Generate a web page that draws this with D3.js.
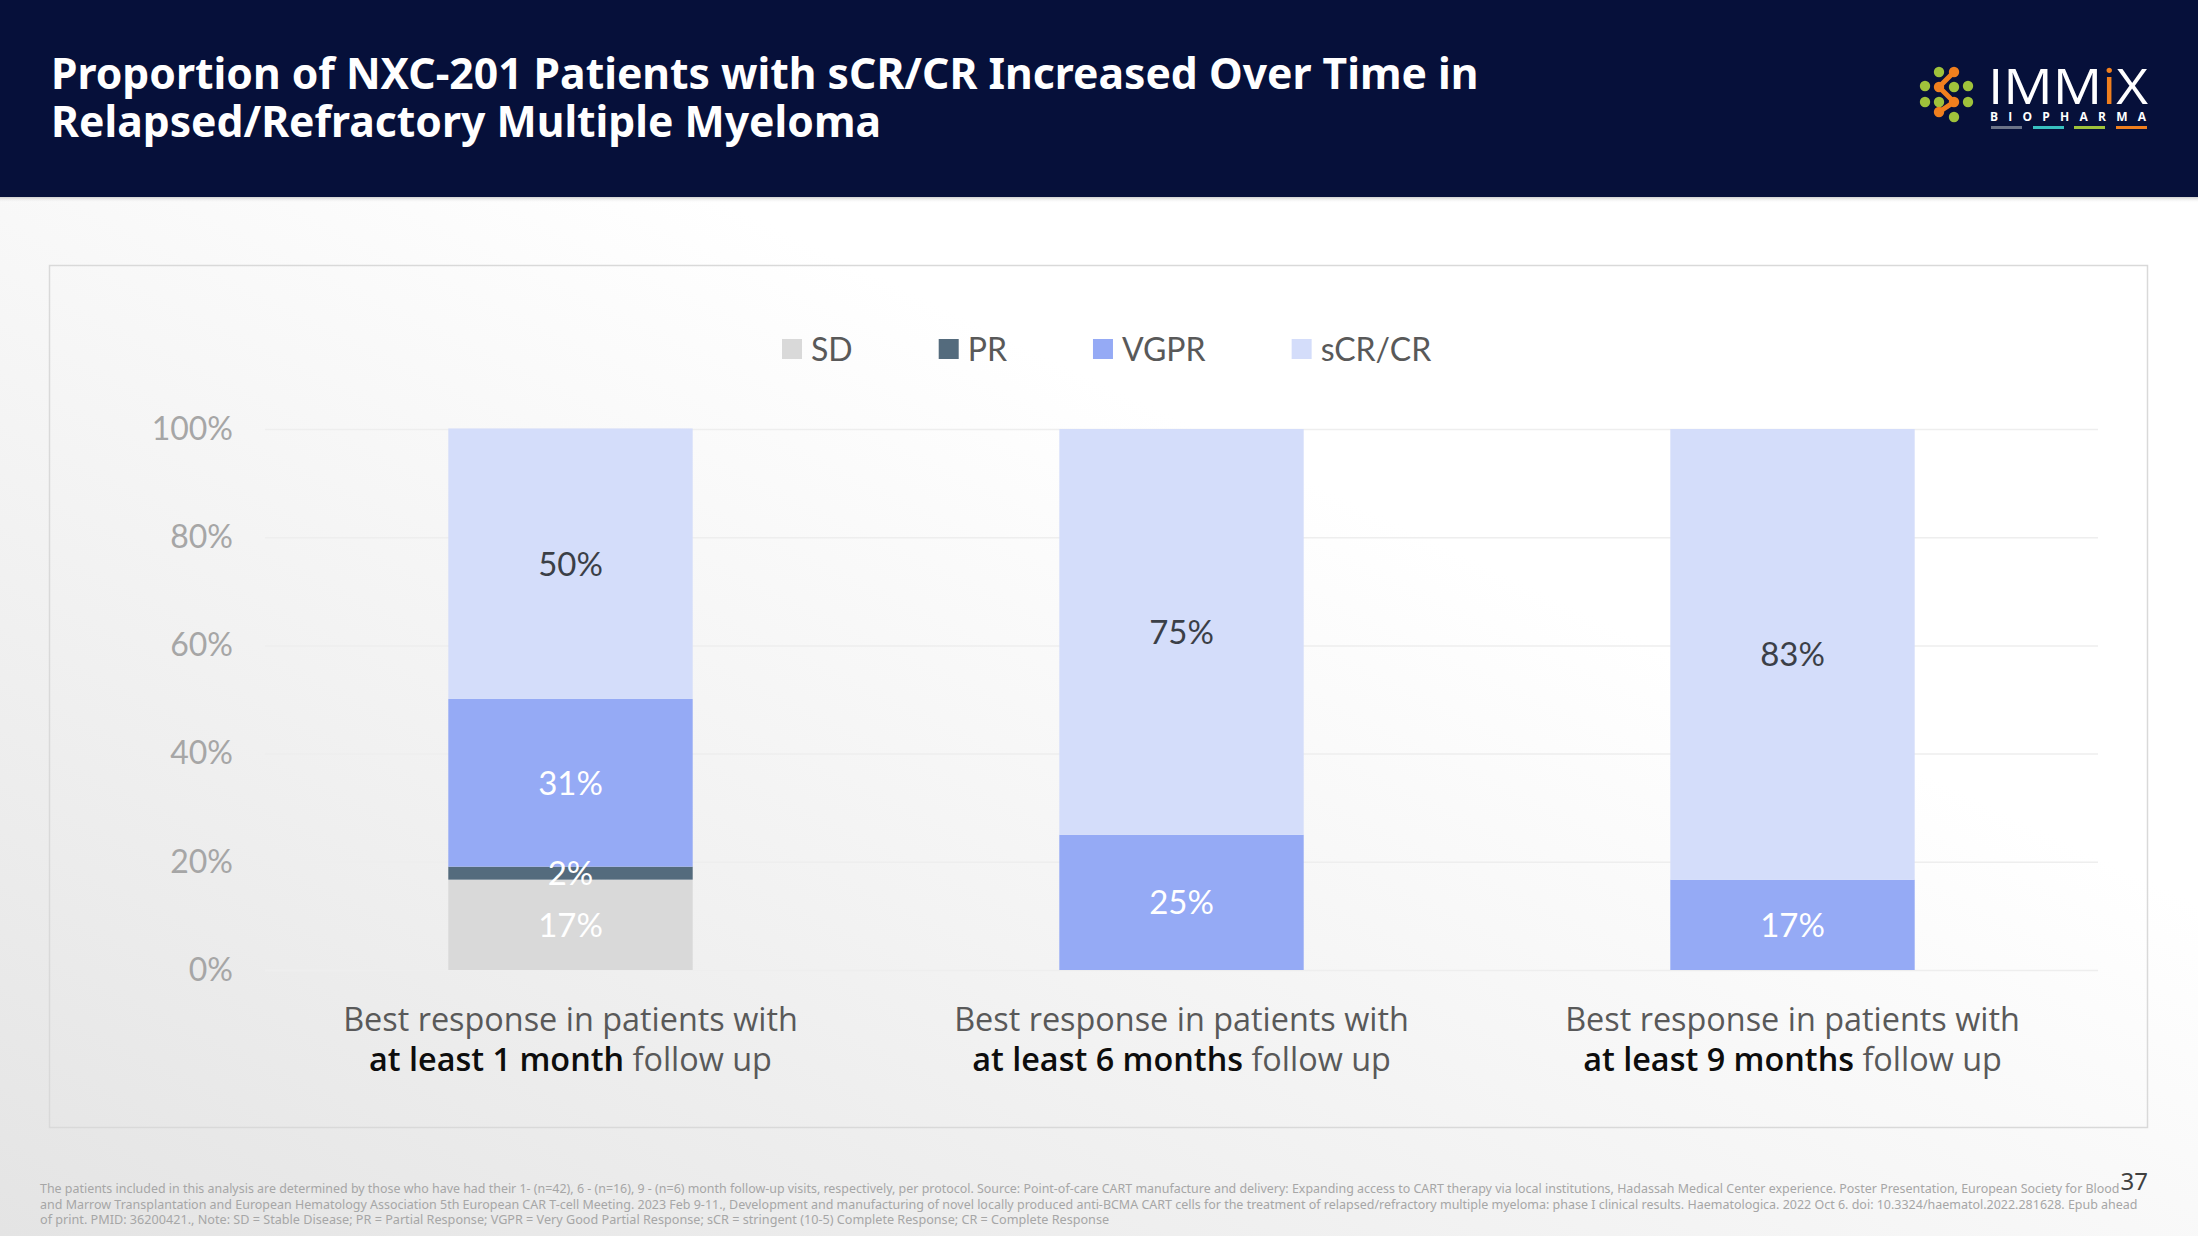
<!DOCTYPE html>
<html>
<head>
<meta charset="utf-8">
<script src="https://cdn.jsdelivr.net/npm/d3@7"></script>
<style>
  html, body { margin: 0; padding: 0; background: #ffffff; }
  svg { display: block; }
</style>
</head>
<body>
<svg id="chart" width="2198" height="1236"></svg>
<script>
// ---------------- DATA ----------------
const categories = ["1 month", "6 months", "9 months"];
const seriesNames = ["SD", "PR", "VGPR", "sCR/CR"];
const sdValues   = [16.7, 0, 0];
const prValues   = [2.4, 0, 0];
const vgprValues = [31.0, 25.0, 16.7];
const scrValues  = [50.0, 75.0, 83.3];
const yTicks = [0, 20, 40, 60, 80, 100];
const xLabelLine1 = ["Best response in patients with", "Best response in patients with", "Best response in patients with"];
const xLabelBold = ["at least 1 month", "at least 6 months", "at least 9 months"];
const xLabelRest = [" follow up", " follow up", " follow up"];
const titleLines = [
  "Proportion of NXC-201 Patients with sCR/CR Increased Over Time in",
  "Relapsed/Refractory Multiple Myeloma"
];
const footnoteLines = [
  "The patients included in this analysis are determined by those who have had their 1- (n=42), 6 - (n=16), 9 - (n=6) month follow-up visits, respectively, per protocol. Source: Point-of-care CART manufacture and delivery: Expanding access to CART therapy via local institutions, Hadassah Medical Center experience. Poster Presentation, European Society for Blood",
  "and Marrow Transplantation and European Hematology Association 5th European CAR T-cell Meeting. 2023 Feb 9-11., Development and manufacturing of novel locally produced anti-BCMA CART cells for the treatment of relapsed/refractory multiple myeloma: phase I clinical results. Haematologica. 2022 Oct 6. doi: 10.3324/haematol.2022.281628. Epub ahead",
  "of print. PMID: 36200421.,  Note: SD = Stable Disease; PR = Partial Response; VGPR = Very Good Partial Response; sCR = stringent (10-5) Complete Response; CR = Complete Response"
];
const pageNumber = "37";

// ---------------- STYLE ----------------
const colors = { "SD": "#d9d9d9", "PR": "#546b7d", "VGPR": "#95aaf5", "sCR/CR": "#d4ddfa" };
const labelColors = { "SD": "#ffffff", "PR": "#ffffff", "VGPR": "#ffffff", "sCR/CR": "#3b3f47" };

const W = 2198, H = 1236;
const svg = d3.select("#chart");
const defs = svg.append("defs");

// background gradient
const bg = defs.append("linearGradient").attr("id", "bgGrad")
  .attr("x1", "0").attr("y1", "1").attr("x2", "0.55").attr("y2", "0.35");
bg.append("stop").attr("offset", "0").attr("stop-color", "#e4e4e4");
bg.append("stop").attr("offset", "1").attr("stop-color", "#ffffff");
svg.append("rect").attr("width", W).attr("height", H).attr("fill", "url(#bgGrad)");

// header
svg.append("rect").attr("x", 0).attr("y", 0).attr("width", W).attr("height", 197).attr("fill", "#06103a");
const sh = defs.append("linearGradient").attr("id", "shGrad").attr("x1", 0).attr("y1", 0).attr("x2", 0).attr("y2", 1);
sh.append("stop").attr("offset", 0).attr("stop-color", "#d0d0d0");
sh.append("stop").attr("offset", 1).attr("stop-color", "#ffffff").attr("stop-opacity", 0);
svg.append("rect").attr("x", 0).attr("y", 197).attr("width", W).attr("height", 6).attr("fill", "url(#shGrad)");

const titleFont = "'Noto Sans', 'Open Sans', sans-serif";
const title = svg.append("g");
const tl = title.selectAll("text").data(titleLines).join("text")
  .attr("x", 51)
  .attr("y", (d, i) => 89 + i * 48)
  .attr("fill", "#ffffff")
  .attr("font-family", titleFont)
  .attr("font-weight", 700)
  .attr("font-size", 40)
  .text(d => d);
// fit first line width to reference
const w0 = tl.nodes()[0].getComputedTextLength();
const fs = 40 * 1428 / w0;
tl.attr("font-size", fs);

// logo
const logo = svg.append("g");
const green = "#9fc23b", orange = "#f07f1e";
const dots = [
  [1925, 86, green], [1925, 102, green],
  [1939, 72, green], [1939, 87, orange], [1939, 102, green], [1939, 112, orange],
  [1954, 72, orange], [1954, 87, green], [1954, 102, orange], [1954, 117, green],
  [1968, 86, green], [1968, 102, green]
];
logo.append("path")
  .attr("d", "M1954,72 L1939,87 L1954,102 L1939,112")
  .attr("stroke", orange).attr("stroke-width", 5).attr("fill", "none").attr("stroke-linecap", "round");
logo.selectAll("circle").data(dots).join("circle")
  .attr("cx", d => d[0]).attr("cy", d => d[1]).attr("r", 5.2).attr("fill", d => d[2]);
const immix = logo.append("text").attr("x", 1988).attr("y", 104)
  .attr("font-family", "'Open Sans', sans-serif").attr("font-weight", 400).attr("font-size", 50)
  .attr("fill", "#ffffff").attr("textLength", 160).attr("lengthAdjust", "spacingAndGlyphs");
immix.append("tspan").text("IMM");
immix.append("tspan").attr("fill", orange).text("i");
immix.append("tspan").text("X");
logo.append("text").attr("x", 1990).attr("y", 121)
  .attr("font-family", "'Open Sans', sans-serif").attr("font-weight", 700).attr("font-size", 12)
  .attr("fill", "#ffffff").attr("textLength", 156).attr("lengthAdjust", "spacing")
  .text("BIOPHARMA");
const bars = [["#6b7388", 1991], ["#38c0c0", 2033], ["#9fc23b", 2074], [orange, 2116]];
logo.selectAll("rect.ul").data(bars).join("rect").attr("class", "ul")
  .attr("x", d => d[1]).attr("y", 126).attr("width", 31).attr("height", 3).attr("fill", d => d[0]);

// panel border
svg.append("rect").attr("x", 49.5).attr("y", 265.5).attr("width", 2098).attr("height", 862)
  .attr("fill", "none").attr("stroke", "#d9d9d9").attr("stroke-width", 1.5);

// ---------------- SCALES ----------------
const x = d3.scaleBand().domain(categories).range([265, 2098]).paddingInner(0.6).paddingOuter(0.3);
const y = d3.scaleLinear().domain([0, 100]).range([970, 429]);

// gridlines + y axis
const numFont = "Lato, 'Open Sans', sans-serif";
const yAxis = d3.axisLeft(y).tickValues(yTicks).tickSize(-(2098 - 265)).tickPadding(32).tickFormat(d => d + "%");
const gy = svg.append("g").attr("transform", "translate(265,0)").call(yAxis);
gy.select(".domain").remove();
gy.selectAll(".tick line").attr("stroke", "#eeeeee").attr("stroke-width", 1.5);
gy.selectAll(".tick text").attr("fill", "#a6a6a6").attr("font-family", numFont).attr("font-size", 32);

// stacked bars
const table = categories.map((c, i) => ({
  cat: c, "SD": sdValues[i], "PR": prValues[i], "VGPR": vgprValues[i], "sCR/CR": scrValues[i]
}));
const stack = d3.stack().keys(seriesNames)(table);
const layers = svg.append("g").selectAll("g").data(stack).join("g").attr("fill", d => colors[d.key]);
layers.selectAll("rect").data(d => d.map(p => ({ key: d.key, p }))).join("rect")
  .attr("x", d => x(d.p.data.cat))
  .attr("width", x.bandwidth())
  .attr("y", d => y(d.p[1]))
  .attr("height", d => y(d.p[0]) - y(d.p[1]));

// value labels
const fmt = d3.format(".0f");
const labels = svg.append("g");
stack.forEach(layer => {
  layer.forEach(p => {
    const v = p[1] - p[0];
    if (v <= 0) return;
    labels.append("text")
      .attr("x", x(p.data.cat) + x.bandwidth() / 2)
      .attr("y", y((p[0] + p[1]) / 2))
      .attr("dy", "0.36em")
      .attr("text-anchor", "middle")
      .attr("fill", labelColors[layer.key])
      .attr("font-family", numFont)
      .attr("font-size", 33)
      .text(fmt(v) + "%");
  });
});

// x labels
const xl = svg.append("g");
categories.forEach((c, i) => {
  const cx = x(c) + x.bandwidth() / 2;
  xl.append("text").attr("x", cx).attr("y", 1031).attr("text-anchor", "middle")
    .attr("font-family", "'Open Sans', sans-serif").attr("font-size", 32.4).attr("fill", "#595959")
    .text(xLabelLine1[i]);
  const t2 = xl.append("text").attr("x", cx).attr("y", 1071).attr("text-anchor", "middle")
    .attr("font-family", "'Open Sans', sans-serif").attr("font-size", 32.4).attr("fill", "#595959");
  t2.append("tspan").attr("font-weight", 600).attr("fill", "#0d0d0d").text(xLabelBold[i]);
  t2.append("tspan").text(xLabelRest[i]);
});

// legend
const leg = svg.append("g");
let lx = 782;
seriesNames.forEach(name => {
  leg.append("rect").attr("x", lx).attr("y", 339).attr("width", 20).attr("height", 20).attr("fill", colors[name]);
  const t = leg.append("text").attr("x", lx + 29).attr("y", 349).attr("dy", "0.36em")
    .attr("font-family", numFont).attr("font-size", 32).attr("fill", "#595959").text(name);
  lx = lx + 29 + t.node().getComputedTextLength() + 86;
});

// footnote: horizontally condensed via transform to fit the reference widths
const fnLengths = [2080, 2100, 1070];
const fn = svg.append("g");
footnoteLines.forEach((line, i) => {
  const g = fn.append("g");
  const t = g.append("text").attr("x", 0).attr("y", 0)
    .attr("font-family", "'Noto Sans', sans-serif").attr("font-size", 13).attr("fill", "#a6a6a6")
    .text(line);
  const nat = t.node().getComputedTextLength();
  g.attr("transform", `translate(40,${1193 + i * 15.5}) scale(${fnLengths[i] / nat},1)`);
});

svg.append("text").attr("x", 2148).attr("y", 1190).attr("text-anchor", "end")
  .attr("font-family", "'Noto Sans', sans-serif").attr("font-size", 24).attr("fill", "#404040")
  .text(pageNumber);
</script>
</body>
</html>
